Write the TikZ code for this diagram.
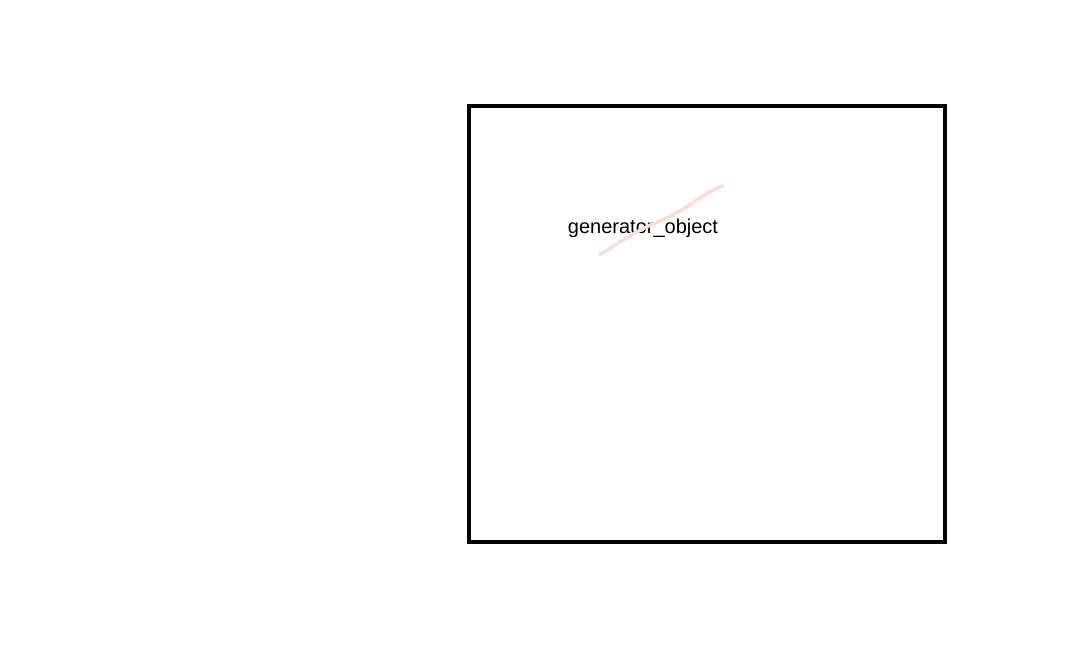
\documentclass[tikz,border=0pt]{standalone}
\usepackage{fontspec}
\setmainfont{Liberation Sans}
\definecolor{scribblepink}{RGB}{255,218,218}
\tikzset{
  frame/.style={draw=black, line width=4pt},
  label/.style={font=\fontsize{20pt}{24pt}\selectfont, inner sep=0pt, anchor=center},
  scribble/.style={draw=scribblepink, line width=3.5pt, line cap=round, line join=round}
}
\begin{document}
\begin{tikzpicture}[x=1pt,y=-1pt]
\useasboundingbox (0,0) rectangle (1089,668);
\node[frame, minimum width=476pt, minimum height=436pt, inner sep=0pt] (box) at (707,324) {};
\node[label] (gen) at (643,228) {generator\_object};
\coordinate (s0) at (600,255);
\coordinate (s1) at (660,221);
\coordinate (s2) at (723,186);
\path[scribble] (s0) .. controls (622,240) and (640,229) .. (s1) .. controls (688,210) and (703,192) .. (s2);
\end{tikzpicture}
\end{document}
